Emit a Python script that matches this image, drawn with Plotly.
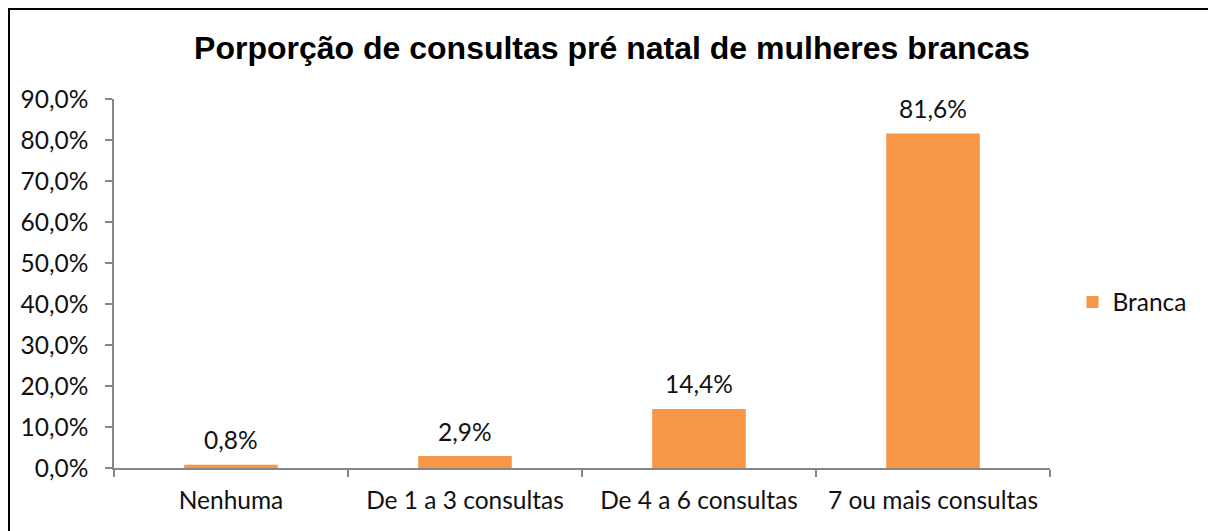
import plotly.graph_objects as go

categorias = ['Nenhuma', 'De 1 a 3 consultas', 'De 4 a 6 consultas', '7 ou mais consultas']
branca = [0.008, 0.029, 0.144, 0.816]

eixo_y_vals = [0, 0.1, 0.2, 0.3, 0.4, 0.5, 0.6, 0.7, 0.8, 0.9]

fonte = dict(family='Lato', size=24.5, color='#111111')

fig = go.Figure()
fig.add_trace(go.Bar(
    x=categorias,
    y=branca,
    name='Branca',
    marker=dict(color='#F79646', line=dict(width=0)),
))

# rótulos de dados acima das barras (estilo Excel)
for c, v in zip(categorias, branca):
    fig.add_annotation(
        x=c, y=v, text=f'{v * 100:.1f}%'.replace('.', ','),
        showarrow=False, yanchor='middle', yshift=25, font=fonte,
    )

# a página tem margem de 8px no body
fig.update_layout(
    width=1208, height=523,
    margin=dict(l=106, r=166, t=91, b=63),
    paper_bgcolor='white', plot_bgcolor='white',
    separators=',.',
    bargap=0.6,
    showlegend=True,
    title=dict(
        text='<b>Porporção de consultas pré natal de mulheres brancas</b>',
        font=dict(family='Liberation Sans', size=32, color='#000000'),
        x=0.5, xanchor='center', y=1 - 40 / 523, yanchor='middle',
    ),
    legend=dict(
        x=1.024, xanchor='left', y=0.45, yanchor='middle',
        font=fonte,
        bgcolor='rgba(0,0,0,0)',
    ),
    font=fonte,
)

fig.update_yaxes(
    range=[0, 0.9],
    tickvals=eixo_y_vals,
    tickformat='.1%',
    showgrid=False,
    zeroline=False,
    showline=True, linecolor='#868686', linewidth=1.5,
    ticks='outside', ticklen=7, tickcolor='#868686', tickwidth=1.5,
    ticklabelstandoff=12,
    tickfont=fonte,
)
fig.update_xaxes(
    showgrid=False,
    showline=True, linecolor='#868686', linewidth=1.5,
    ticks='outside', ticklen=7, tickcolor='#868686', tickwidth=1.5,
    tickson='boundaries',
    ticklabelstandoff=10,
    tickfont=fonte,
)

# moldura do gráfico
largura = 1208 - 106 - 166
altura = 523 - 91 - 63
fig.add_shape(
    type='rect', xref='paper', yref='paper',
    x0=(1 - 106) / largura, x1=(1203 - 106) / largura,
    y0=-0.3, y1=(523 - 63 - 1) / altura,
    line=dict(color='#000000', width=2),
    fillcolor='rgba(0,0,0,0)',
)

fig.write_html('out.html')
